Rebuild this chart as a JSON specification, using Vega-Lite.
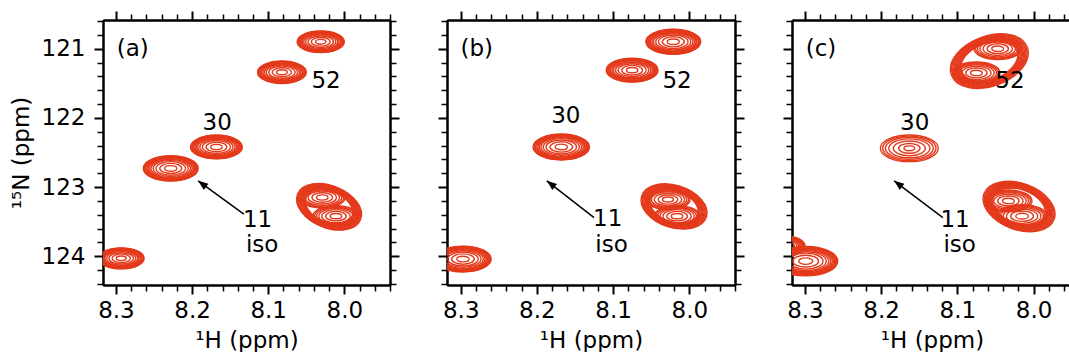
{
  "$schema": "https://vega.github.io/schema/vega-lite/v6.json",
  "padding": {"left": 10, "top": 10, "right": 0, "bottom": 0},
  "background": "white",
  "spacing": 37,
  "config": {
    "view": {"stroke": null},
    "font": "DejaVu Sans",
    "axis": {
      "grid": false, "domainColor": "black", "domainWidth": 2, "tickColor": "black",
      "labelFont": "DejaVu Sans", "titleFont": "DejaVu Sans", "labelFontSize": 23, "titleFontSize": 23,
      "titleFontWeight": "normal", "labelColor": "black", "titleColor": "black"
    }
  },
  "datasets": {
    "peaks": [
      {"panel": "a", "H": 8.031, "N": 120.90, "w": [0.031,0.0301,0.0291,0.0282,0.027,0.0257,0.0242,0.0223,0.0198,0.0167,0.0124,0.0068]},
      {"panel": "a", "H": 8.082, "N": 121.34, "w": [0.032,0.031,0.0301,0.0291,0.0278,0.0266,0.025,0.023,0.0205,0.0173,0.0128,0.007]},
      {"panel": "a", "H": 8.168, "N": 122.42, "w": [0.034,0.033,0.032,0.0309,0.0296,0.0282,0.0265,0.0245,0.0218,0.0184,0.0136,0.0075]},
      {"panel": "a", "H": 8.228, "N": 122.73, "w": [0.036,0.0349,0.0338,0.0328,0.0313,0.0299,0.0281,0.0259,0.023,0.0194,0.0144,0.0079]},
      {"panel": "a", "H": 8.293, "N": 124.03, "w": [0.03,0.0291,0.0282,0.0273,0.0261,0.0249,0.0234,0.0216,0.0192,0.0162,0.012,0.0066]},
      {"panel": "a", "H": 8.029, "N": 123.15, "w": [0.03,0.028,0.0255,0.0225,0.0186,0.0135,0.0075]},
      {"panel": "a", "H": 8.011, "N": 123.42, "w": [0.03,0.028,0.0255,0.0225,0.0186,0.0135,0.0075]},
      {"panel": "b", "H": 8.021, "N": 120.90, "w": [0.036,0.0349,0.0338,0.0328,0.0313,0.0299,0.0281,0.0259,0.023,0.0194,0.0144,0.0079]},
      {"panel": "b", "H": 8.075, "N": 121.31, "w": [0.034,0.033,0.032,0.0309,0.0296,0.0282,0.0265,0.0245,0.0218,0.0184,0.0136,0.0075]},
      {"panel": "b", "H": 8.168, "N": 122.42, "w": [0.037,0.0359,0.0348,0.0337,0.0322,0.0307,0.0289,0.0266,0.0237,0.02,0.0148,0.0081]},
      {"panel": "b", "H": 8.297, "N": 124.04, "w": [0.037,0.0359,0.0348,0.0337,0.0322,0.0307,0.0289,0.0266,0.0237,0.02,0.0148,0.0081]},
      {"panel": "b", "H": 8.028, "N": 123.18, "w": [0.029,0.027,0.0246,0.0218,0.018,0.013,0.0072]},
      {"panel": "b", "H": 8.016, "N": 123.42, "w": [0.03,0.028,0.0255,0.0225,0.0186,0.0135,0.0075]},
      {"panel": "c", "H": 8.047, "N": 121.0, "w": [0.031,0.0289,0.0264,0.0233,0.0192,0.014,0.0078]},
      {"panel": "c", "H": 8.075, "N": 121.35, "w": [0.031,0.0289,0.0264,0.0233,0.0192,0.014,0.0078]},
      {"panel": "c", "H": 8.163, "N": 122.44, "w": [0.038,0.035,0.0315,0.027,0.021,0.014,0.007]},
      {"panel": "c", "H": 8.299, "N": 124.07, "w": [0.042,0.0407,0.0395,0.0382,0.0365,0.0349,0.0328,0.0302,0.0269,0.0227,0.0168,0.0092]},
      {"panel": "c", "H": 8.33, "N": 123.85, "w": [0.03,0.0291,0.0282,0.0273,0.0261,0.0249,0.0234,0.0216,0.0192,0.0162,0.012,0.0066]},
      {"panel": "c", "H": 8.033, "N": 123.2, "w": [0.031,0.0289,0.0264,0.0233,0.0192,0.014,0.0078]},
      {"panel": "c", "H": 8.015, "N": 123.42, "w": [0.033,0.0307,0.0281,0.0248,0.0205,0.0149,0.0083]}
    ],
    "blobs": [
      {"panel": "a", "kind": "pair", "H": 8.020, "N": 123.285, "w": [0.0446,0.0433,0.0419,0.0406,0.0392,0.0379,0.0366,0.0352,0.0339,0.0326]},
      {"panel": "b", "kind": "pair", "H": 8.020, "N": 123.28, "w": [0.0446,0.0433,0.0419,0.0406,0.0392,0.0379,0.0366,0.0352,0.0339,0.0326]},
      {"panel": "c", "kind": "pair", "H": 8.019, "N": 123.28, "w": [0.049,0.0475,0.0461,0.0446,0.0431,0.0417,0.0402,0.0387,0.0372,0.0358]},
      {"panel": "c", "kind": "tilt", "H": 8.058, "N": 121.18, "w": [0.053,0.0514,0.0498,0.0482,0.0466,0.045,0.0435,0.0419,0.0403,0.0387]}
    ],
    "labels": [
      {"panel": "a", "H": 8.278, "N": 121.0, "t": "(a)"},
      {"panel": "a", "H": 8.167, "N": 122.08, "t": "30"},
      {"panel": "a", "H": 8.024, "N": 121.47, "t": "52"},
      {"panel": "a", "H": 8.114, "N": 123.48, "t": "11"},
      {"panel": "a", "H": 8.108, "N": 123.84, "t": "iso"},
      {"panel": "b", "H": 8.279, "N": 121.0, "t": "(b)"},
      {"panel": "b", "H": 8.162, "N": 121.97, "t": "30"},
      {"panel": "b", "H": 8.016, "N": 121.47, "t": "52"},
      {"panel": "b", "H": 8.107, "N": 123.46, "t": "11"},
      {"panel": "b", "H": 8.102, "N": 123.83, "t": "iso"},
      {"panel": "c", "H": 8.279, "N": 121.0, "t": "(c)"},
      {"panel": "c", "H": 8.156, "N": 122.07, "t": "30"},
      {"panel": "c", "H": 8.031, "N": 121.47, "t": "52"},
      {"panel": "c", "H": 8.103, "N": 123.47, "t": "11"},
      {"panel": "c", "H": 8.097, "N": 123.83, "t": "iso"}
    ],
    "arrows": [
      {"panel": "a", "H": 8.132, "N": 123.39, "H2": 8.192, "N2": 122.91},
      {"panel": "b", "H": 8.125, "N": 123.44, "H2": 8.187, "N2": 122.91},
      {"panel": "c", "H": 8.119, "N": 123.44, "H2": 8.183, "N2": 122.91}
    ]
  },
  "hconcat": [
    {
      "width": 287, "height": 265,
      "layer": [
        {
          "data": {"name": "blobs"},
          "transform": [{"filter": "datum.panel === 'a' && datum.kind === 'pair'"}, {"flatten": ["w"]}],
          "mark": {"type": "point", "shape": "M1,0 C1,0.342 0.552,0.62 0,0.62 C-0.552,0.62 -1,0.342 -1,0 C-1,-0.342 -0.552,-0.62 0,-0.62 C0.552,-0.62 1,-0.342 1,0 Z", "angle": 22, "filled": false, "stroke": "#e4391b", "strokeWidth": 1.4, "opacity": 1, "clip": true},
          "encoding": {
            "x": {"field": "H", "type": "quantitative", "scale": {"domain": [7.94, 8.317], "reverse": true, "nice": false, "zero": false}, "axis": null},
            "y": {"field": "N", "type": "quantitative", "scale": {"domain": [120.585, 124.415], "reverse": true, "nice": false, "zero": false}, "axis": null},
            "size": {"field": "w", "type": "quantitative", "scale": {"type": "pow", "exponent": 2, "domain": [0, 0.06], "range": [0, 8361]}, "legend": null}
          }
        },
        {
          "data": {"name": "peaks"},
          "transform": [{"filter": "datum.panel === 'a'"}, {"flatten": ["w"]}],
          "mark": {"type": "point", "shape": "M1,0 C1,0.254 0.552,0.46 0,0.46 C-0.552,0.46 -1,0.254 -1,0 C-1,-0.254 -0.552,-0.46 0,-0.46 C0.552,-0.46 1,-0.254 1,0 Z", "filled": false, "stroke": "#e4391b", "strokeWidth": 1.4, "opacity": 1, "clip": true},
          "encoding": {
            "x": {"field": "H", "type": "quantitative",
                  "axis": {"orient": "bottom", "values": [8.3, 8.2, 8.1, 8.0], "format": ".1f", "tickSize": 9, "tickWidth": 2, "labelPadding": 5, "title": "¹H (ppm)", "titlePadding": 7}},
            "y": {"field": "N", "type": "quantitative",
                  "axis": {"orient": "left", "values": [121, 122, 123, 124], "format": "d", "tickSize": 9, "tickWidth": 2, "labelPadding": 9, "title": "¹⁵N (ppm)", "titlePadding": 8}},
            "size": {"field": "w", "type": "quantitative", "legend": null}
          }
        },
        {
          "data": {"name": "labels"},
          "transform": [{"filter": "datum.panel === 'a'"}],
          "mark": {"type": "text", "font": "DejaVu Sans", "fontSize": 23, "color": "black", "align": "center", "baseline": "middle"},
          "encoding": {
            "x": {"field": "H", "type": "quantitative", "axis": {"orient": "top", "values": [8.3, 8.2, 8.1, 8.0], "labels": false, "tickSize": 9, "tickWidth": 2, "title": null}},
            "y": {"field": "N", "type": "quantitative", "axis": {"orient": "right", "values": [121, 122, 123, 124], "labels": false, "tickSize": 9, "tickWidth": 2, "title": null}},
            "text": {"field": "t"}
          }
        },
        {
          "data": {"name": "arrows"},
          "transform": [{"filter": "datum.panel === 'a'"}],
          "mark": {"type": "rule", "color": "black", "strokeWidth": 1.5},
          "encoding": {
            "x": {"field": "H", "type": "quantitative", "axis": {"orient": "bottom", "values": [7.94,7.96,7.98,8.02,8.04,8.06,8.08,8.12,8.14,8.16,8.18,8.22,8.24,8.26,8.28], "labels": false, "tickSize": 6, "tickWidth": 1.5, "title": null}},
            "y": {"field": "N", "type": "quantitative", "axis": {"orient": "left", "values": [120.6,120.8,121.2,121.4,121.6,121.8,122.2,122.4,122.6,122.8,123.2,123.4,123.6,123.8,124.2,124.4], "labels": false, "tickSize": 6, "tickWidth": 1.5, "title": null}},
            "x2": {"field": "H2"},
            "y2": {"field": "N2"}
          }
        },
        {
          "data": {"name": "arrows"},
          "transform": [{"filter": "datum.panel === 'a'"}],
          "mark": {"type": "point", "shape": "M0,0 L0.38,1 L-0.38,1 Z", "filled": true, "color": "black", "opacity": 1, "size": 400, "angle": 307},
          "encoding": {
            "x": {"field": "H2", "type": "quantitative", "axis": {"orient": "top", "values": [7.94,7.96,7.98,8.02,8.04,8.06,8.08,8.12,8.14,8.16,8.18,8.22,8.24,8.26,8.28], "labels": false, "tickSize": 6, "tickWidth": 1.5, "title": null}},
            "y": {"field": "N2", "type": "quantitative", "axis": {"orient": "right", "values": [120.6,120.8,121.2,121.4,121.6,121.8,122.2,122.4,122.6,122.8,123.2,123.4,123.6,123.8,124.2,124.4], "labels": false, "tickSize": 6, "tickWidth": 1.5, "title": null}}
          }
        }
      ],
      "resolve": {"axis": {"x": "independent", "y": "independent"}}
    },
    {
      "width": 288, "height": 265,
      "layer": [
        {
          "data": {"name": "blobs"},
          "transform": [{"filter": "datum.panel === 'b' && datum.kind === 'pair'"}, {"flatten": ["w"]}],
          "mark": {"type": "point", "shape": "M1,0 C1,0.342 0.552,0.62 0,0.62 C-0.552,0.62 -1,0.342 -1,0 C-1,-0.342 -0.552,-0.62 0,-0.62 C0.552,-0.62 1,-0.342 1,0 Z", "angle": 18, "filled": false, "stroke": "#e4391b", "strokeWidth": 1.4, "opacity": 1, "clip": true},
          "encoding": {
            "x": {"field": "H", "type": "quantitative", "scale": {"domain": [7.94, 8.318], "reverse": true, "nice": false, "zero": false}, "axis": null},
            "y": {"field": "N", "type": "quantitative", "scale": {"domain": [120.585, 124.415], "reverse": true, "nice": false, "zero": false}, "axis": null},
            "size": {"field": "w", "type": "quantitative", "scale": {"type": "pow", "exponent": 2, "domain": [0, 0.06], "range": [0, 8361]}, "legend": null}
          }
        },
        {
          "data": {"name": "peaks"},
          "transform": [{"filter": "datum.panel === 'b'"}, {"flatten": ["w"]}],
          "mark": {"type": "point", "shape": "M1,0 C1,0.254 0.552,0.46 0,0.46 C-0.552,0.46 -1,0.254 -1,0 C-1,-0.254 -0.552,-0.46 0,-0.46 C0.552,-0.46 1,-0.254 1,0 Z", "filled": false, "stroke": "#e4391b", "strokeWidth": 1.4, "opacity": 1, "clip": true},
          "encoding": {
            "x": {"field": "H", "type": "quantitative",
                  "axis": {"orient": "bottom", "values": [8.3, 8.2, 8.1, 8.0], "format": ".1f", "tickSize": 9, "tickWidth": 2, "labelPadding": 5, "title": "¹H (ppm)", "titlePadding": 7}},
            "y": {"field": "N", "type": "quantitative",
                  "axis": {"orient": "left", "values": [121, 122, 123, 124], "labels": false, "tickSize": 9, "tickWidth": 2, "title": null}},
            "size": {"field": "w", "type": "quantitative", "legend": null}
          }
        },
        {
          "data": {"name": "labels"},
          "transform": [{"filter": "datum.panel === 'b'"}],
          "mark": {"type": "text", "font": "DejaVu Sans", "fontSize": 23, "color": "black", "align": "center", "baseline": "middle"},
          "encoding": {
            "x": {"field": "H", "type": "quantitative", "axis": {"orient": "top", "values": [8.3, 8.2, 8.1, 8.0], "labels": false, "tickSize": 9, "tickWidth": 2, "title": null}},
            "y": {"field": "N", "type": "quantitative", "axis": {"orient": "right", "values": [121, 122, 123, 124], "labels": false, "tickSize": 9, "tickWidth": 2, "title": null}},
            "text": {"field": "t"}
          }
        },
        {
          "data": {"name": "arrows"},
          "transform": [{"filter": "datum.panel === 'b'"}],
          "mark": {"type": "rule", "color": "black", "strokeWidth": 1.5},
          "encoding": {
            "x": {"field": "H", "type": "quantitative", "axis": {"orient": "bottom", "values": [7.94,7.96,7.98,8.02,8.04,8.06,8.08,8.12,8.14,8.16,8.18,8.22,8.24,8.26,8.28], "labels": false, "tickSize": 6, "tickWidth": 1.5, "title": null}},
            "y": {"field": "N", "type": "quantitative", "axis": {"orient": "left", "values": [120.6,120.8,121.2,121.4,121.6,121.8,122.2,122.4,122.6,122.8,123.2,123.4,123.6,123.8,124.2,124.4], "labels": false, "tickSize": 6, "tickWidth": 1.5, "title": null}},
            "x2": {"field": "H2"},
            "y2": {"field": "N2"}
          }
        },
        {
          "data": {"name": "arrows"},
          "transform": [{"filter": "datum.panel === 'b'"}],
          "mark": {"type": "point", "shape": "M0,0 L0.38,1 L-0.38,1 Z", "filled": true, "color": "black", "opacity": 1, "size": 400, "angle": 308},
          "encoding": {
            "x": {"field": "H2", "type": "quantitative", "axis": {"orient": "top", "values": [7.94,7.96,7.98,8.02,8.04,8.06,8.08,8.12,8.14,8.16,8.18,8.22,8.24,8.26,8.28], "labels": false, "tickSize": 6, "tickWidth": 1.5, "title": null}},
            "y": {"field": "N2", "type": "quantitative", "axis": {"orient": "right", "values": [120.6,120.8,121.2,121.4,121.6,121.8,122.2,122.4,122.6,122.8,123.2,123.4,123.6,123.8,124.2,124.4], "labels": false, "tickSize": 6, "tickWidth": 1.5, "title": null}}
          }
        }
      ],
      "resolve": {"axis": {"x": "independent", "y": "independent"}}
    },
    {
      "width": 280, "height": 265,
      "layer": [
        {
          "data": {"name": "blobs"},
          "transform": [{"filter": "datum.panel === 'c' && datum.kind === 'pair'"}, {"flatten": ["w"]}],
          "mark": {"type": "point", "shape": "M1,0 C1,0.342 0.552,0.62 0,0.62 C-0.552,0.62 -1,0.342 -1,0 C-1,-0.342 -0.552,-0.62 0,-0.62 C0.552,-0.62 1,-0.342 1,0 Z", "angle": 20, "filled": false, "stroke": "#e4391b", "strokeWidth": 1.4, "opacity": 1, "clip": true},
          "encoding": {
            "x": {"field": "H", "type": "quantitative", "scale": {"domain": [7.9495, 8.317], "reverse": true, "nice": false, "zero": false}, "axis": null},
            "y": {"field": "N", "type": "quantitative", "scale": {"domain": [120.585, 124.415], "reverse": true, "nice": false, "zero": false}, "axis": null},
            "size": {"field": "w", "type": "quantitative", "scale": {"type": "pow", "exponent": 2, "domain": [0, 0.06], "range": [0, 8361]}, "legend": null}
          }
        },
        {
          "data": {"name": "blobs"},
          "transform": [{"filter": "datum.panel === 'c' && datum.kind === 'tilt'"}, {"flatten": ["w"]}],
          "mark": {"type": "point", "shape": "M1,0 C1,0.342 0.552,0.62 0,0.62 C-0.552,0.62 -1,0.342 -1,0 C-1,-0.342 -0.552,-0.62 0,-0.62 C0.552,-0.62 1,-0.342 1,0 Z", "angle": 340, "filled": false, "stroke": "#e4391b", "strokeWidth": 1.4, "opacity": 1, "clip": true},
          "encoding": {
            "x": {"field": "H", "type": "quantitative", "axis": null},
            "y": {"field": "N", "type": "quantitative", "axis": null},
            "size": {"field": "w", "type": "quantitative", "legend": null}
          }
        },
        {
          "data": {"name": "peaks"},
          "transform": [{"filter": "datum.panel === 'c'"}, {"flatten": ["w"]}],
          "mark": {"type": "point", "shape": "M1,0 C1,0.254 0.552,0.46 0,0.46 C-0.552,0.46 -1,0.254 -1,0 C-1,-0.254 -0.552,-0.46 0,-0.46 C0.552,-0.46 1,-0.254 1,0 Z", "filled": false, "stroke": "#e4391b", "strokeWidth": 1.4, "opacity": 1, "clip": true},
          "encoding": {
            "x": {"field": "H", "type": "quantitative",
                  "axis": {"orient": "bottom", "values": [8.3, 8.2, 8.1, 8.0], "format": ".1f", "tickSize": 9, "tickWidth": 2, "labelPadding": 5, "title": "¹H (ppm)", "titlePadding": 7}},
            "y": {"field": "N", "type": "quantitative",
                  "axis": {"orient": "left", "values": [121, 122, 123, 124], "labels": false, "tickSize": 9, "tickWidth": 2, "title": null}},
            "size": {"field": "w", "type": "quantitative", "legend": null}
          }
        },
        {
          "data": {"name": "labels"},
          "transform": [{"filter": "datum.panel === 'c'"}],
          "mark": {"type": "text", "font": "DejaVu Sans", "fontSize": 23, "color": "black", "align": "center", "baseline": "middle"},
          "encoding": {
            "x": {"field": "H", "type": "quantitative", "axis": {"orient": "top", "values": [8.3, 8.2, 8.1, 8.0], "labels": false, "tickSize": 9, "tickWidth": 2, "title": null}},
            "y": {"field": "N", "type": "quantitative", "axis": null},
            "text": {"field": "t"}
          }
        },
        {
          "data": {"name": "arrows"},
          "transform": [{"filter": "datum.panel === 'c'"}],
          "mark": {"type": "rule", "color": "black", "strokeWidth": 1.5},
          "encoding": {
            "x": {"field": "H", "type": "quantitative", "axis": {"orient": "bottom", "values": [7.96,7.98,8.02,8.04,8.06,8.08,8.12,8.14,8.16,8.18,8.22,8.24,8.26,8.28], "labels": false, "tickSize": 6, "tickWidth": 1.5, "title": null}},
            "y": {"field": "N", "type": "quantitative", "axis": {"orient": "left", "values": [120.6,120.8,121.2,121.4,121.6,121.8,122.2,122.4,122.6,122.8,123.2,123.4,123.6,123.8,124.2,124.4], "labels": false, "tickSize": 6, "tickWidth": 1.5, "title": null}},
            "x2": {"field": "H2"},
            "y2": {"field": "N2"}
          }
        },
        {
          "data": {"name": "arrows"},
          "transform": [{"filter": "datum.panel === 'c'"}],
          "mark": {"type": "point", "shape": "M0,0 L0.38,1 L-0.38,1 Z", "filled": true, "color": "black", "opacity": 1, "size": 400, "angle": 307},
          "encoding": {
            "x": {"field": "H2", "type": "quantitative", "axis": {"orient": "top", "values": [7.96,7.98,8.02,8.04,8.06,8.08,8.12,8.14,8.16,8.18,8.22,8.24,8.26,8.28], "labels": false, "tickSize": 6, "tickWidth": 1.5, "title": null}},
            "y": {"field": "N2", "type": "quantitative", "axis": null}
          }
        }
      ],
      "resolve": {"axis": {"x": "independent", "y": "independent"}}
    }
  ]
}
